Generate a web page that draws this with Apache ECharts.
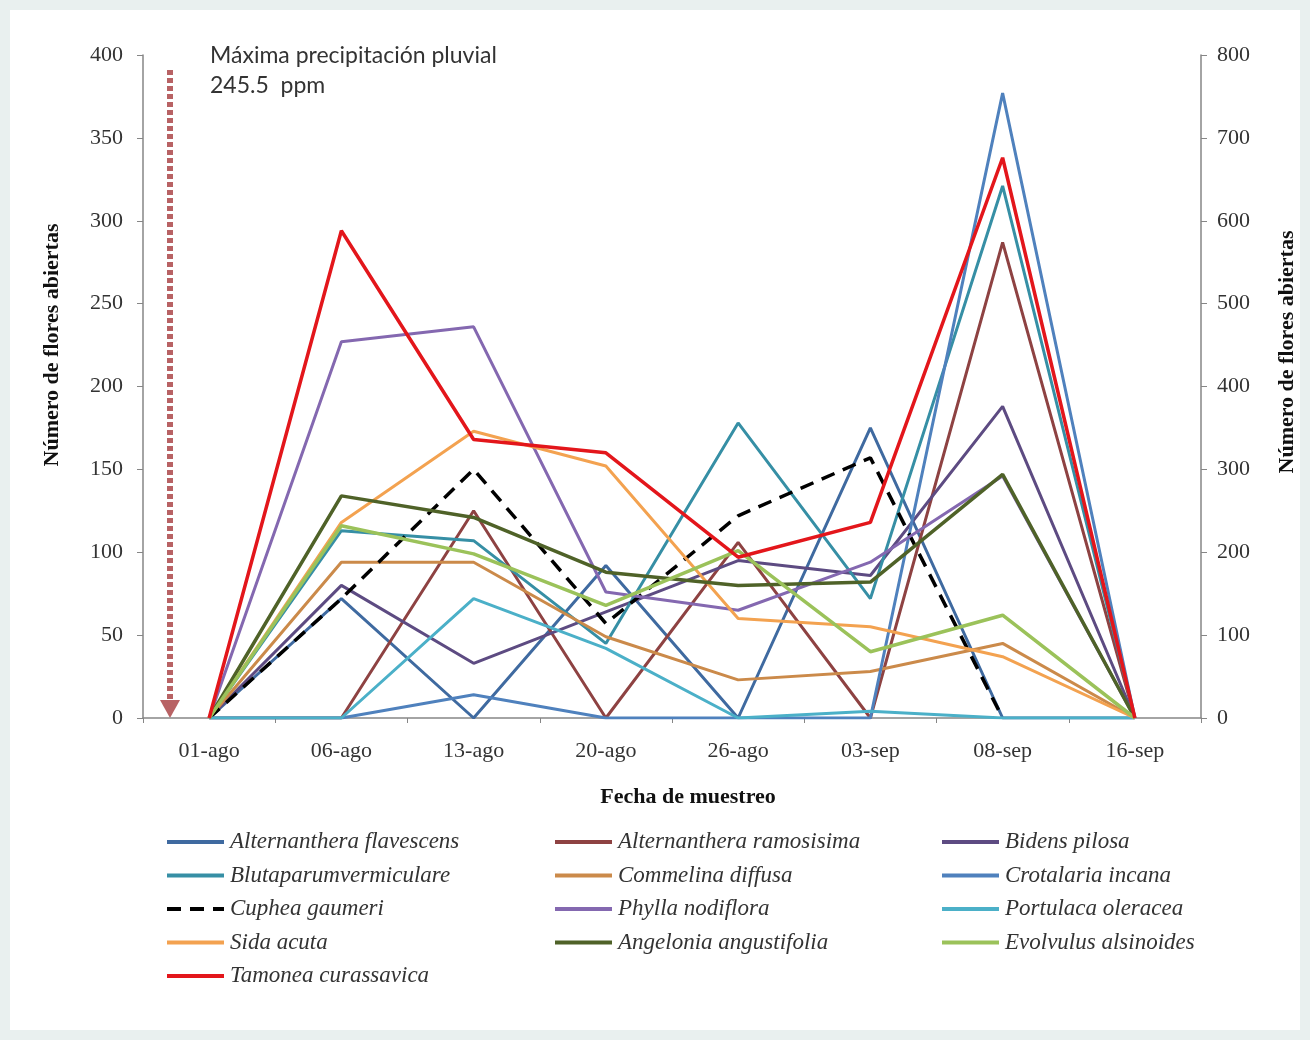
<!DOCTYPE html>
<html>
<head>
<meta charset="utf-8">
<title>Número de flores abiertas</title>
<script src="https://cdn.jsdelivr.net/npm/echarts@6/dist/echarts.min.js"></script>
<style>
  html, body { margin: 0; padding: 0; background: #e9f0ef; }
  #main { width: 1310px; height: 1040px; }
</style>
</head>
<body>
<div id="main"></div>
<script>
// fechas de muestreo
var fechas = ["01-ago", "06-ago", "13-ago", "20-ago", "26-ago", "03-sep", "08-sep", "16-sep"];

// número de flores abiertas por especie
var altFlavescens = [0, 72, 0, 92, 0, 175, 0, 0];
var altRamosisima = [0, 0, 125, 0, 106, 0, 287, 0];
var bidensPilosa = [0, 80, 33, 64, 95, 86, 188, 0];
var blutaparum = [0, 113, 107, 45, 178, 72, 321, 0];
var commelina = [0, 94, 94, 49, 23, 28, 45, 0];
var crotalaria = [0, 0, 14, 0, 0, 0, 377, 0];
var cuphea = [0, 72, 150, 57, 122, 157, 0, null];
var phylla = [0, 227, 236, 76, 65, 94, 146, 0];
var portulaca = [0, 0, 72, 42, 0, 4, 0, 0];
var sidaAcuta = [0, 118, 173, 152, 60, 55, 37, 0];
var angelonia = [0, 134, 121, 88, 80, 82, 147, 0];
var evolvulus = [0, 116, 99, 68, 101, 40, 62, 0];
var tamonea = [0, 294, 168, 160, 97, 118, 338, 0];

var leftTicks = [0, 400, 50];
var rightTicks = [0, 800, 100];

var serif = "'Liberation Serif', 'Times New Roman', serif";
var axisGray = "#868686";

var chart = echarts.init(document.getElementById("main"));

function linea(nombre, datos, color, ancho, tipo) {
  return {
    name: nombre,
    type: "line",
    symbol: "none",
    data: datos,
    lineStyle: { color: color, width: ancho, type: tipo || "solid" },
    itemStyle: { color: color },
    animation: false,
  };
}

function leyenda(left, nombres) {
  return {
    orient: "vertical",
    left: left,
    top: 830,
    padding: 0,
    itemWidth: 57,
    itemHeight: 14,
    itemGap: 9.5,
    // solo la línea, sin el círculo
    itemStyle: { color: "rgba(0,0,0,0)", borderColor: "rgba(0,0,0,0)", borderWidth: 0 },
    lineStyle: { width: 4 },
    textStyle: {
      fontFamily: serif,
      fontStyle: "italic",
      fontSize: 23,
      lineHeight: 24,
      color: "#333",
      padding: [0, 0, 0, 1],
    },
    data: nombres,
  };
}

var option = {
  backgroundColor: "#e9f0ef",
  animation: false,
  grid: {
    left: 143,
    right: 109,
    top: 55,
    bottom: 322,
  },
  legend: [
    leyenda(165, ["Alternanthera flavescens", "Blutaparumvermiculare", "Cuphea gaumeri", "Sida acuta", "Tamonea curassavica"]),
    leyenda(553, ["Alternanthera ramosisima", "Commelina diffusa", "Phylla nodiflora", "Angelonia angustifolia"]),
    leyenda(940, ["Bidens pilosa", "Crotalaria incana", "Portulaca oleracea", "Evolvulus alsinoides"]),
  ],
  xAxis: {
    type: "category",
    data: fechas,
    boundaryGap: true,
    axisLine: { show: true, lineStyle: { color: axisGray, width: 1.5 } },
    axisTick: { show: true, length: 5, lineStyle: { color: axisGray } },
    axisLabel: { margin: 22, fontFamily: serif, fontSize: 22, color: "#333" },
    splitLine: { show: false },
  },
  yAxis: [
    {
      type: "value",
      min: leftTicks[0],
      max: leftTicks[1],
      interval: leftTicks[2],
      position: "left",
      axisLine: { show: true, lineStyle: { color: axisGray, width: 1.5 } },
      axisTick: { show: true, length: 6, lineStyle: { color: axisGray } },
      axisLabel: { margin: 20, fontFamily: serif, fontSize: 22, color: "#333" },
      splitLine: { show: false },
    },
    {
      type: "value",
      min: rightTicks[0],
      max: rightTicks[1],
      interval: rightTicks[2],
      position: "right",
      axisLine: { show: true, lineStyle: { color: axisGray, width: 1.5 } },
      axisTick: { show: true, length: 6, lineStyle: { color: axisGray } },
      axisLabel: { margin: 16, fontFamily: serif, fontSize: 22, color: "#333" },
      splitLine: { show: false },
    },
  ],
  graphic: [
    // tarjeta blanca
    {
      type: "rect",
      z: -10,
      shape: { x: 10, y: 10, width: 1290, height: 1020 },
      style: { fill: "#ffffff" },
    },
    // flecha de precipitación
    {
      type: "line",
      shape: { x1: 170, y1: 70, x2: 170, y2: 700 },
      style: { stroke: "#b86264", lineWidth: 6, lineDash: [5, 3] },
    },
    {
      type: "polygon",
      shape: { points: [[160, 700], [180, 700], [170, 718]] },
      style: { fill: "#b86264" },
    },
    {
      type: "text",
      left: 210,
      top: 41,
      style: {
        text: "Máxima precipitación pluvial\n245.5  ppm",
        font: "23px Lato, 'Open Sans', sans-serif",
        lineHeight: 30,
        fill: "#333",
      },
    },
    {
      type: "text",
      x: 52,
      y: 345,
      rotation: Math.PI / 2,
      style: {
        text: "Número de flores abiertas",
        font: "bold 22px " + serif,
        textAlign: "center",
        textVerticalAlign: "middle",
        fill: "#111",
      },
    },
    {
      type: "text",
      x: 1287,
      y: 352,
      rotation: Math.PI / 2,
      style: {
        text: "Número de flores abiertas",
        font: "bold 22px " + serif,
        textAlign: "center",
        textVerticalAlign: "middle",
        fill: "#111",
      },
    },
    {
      type: "text",
      x: 688,
      y: 797,
      style: {
        text: "Fecha de muestreo",
        font: "bold 22px " + serif,
        textAlign: "center",
        textVerticalAlign: "middle",
        fill: "#111",
      },
    },
  ],
  series: [
    linea("Alternanthera flavescens", altFlavescens, "#3f6aa0", 3),
    linea("Alternanthera ramosisima", altRamosisima, "#8e4242", 3),
    linea("Bidens pilosa", bidensPilosa, "#5d4b82", 3),
    linea("Blutaparumvermiculare", blutaparum, "#368fa5", 3),
    linea("Commelina diffusa", commelina, "#cb8a4a", 3),
    linea("Crotalaria incana", crotalaria, "#4f81bd", 3),
    linea("Cuphea gaumeri", cuphea, "#000000", 3.5, [14, 9]),
    linea("Phylla nodiflora", phylla, "#8468b0", 3),
    linea("Portulaca oleracea", portulaca, "#4bb0c8", 3),
    linea("Sida acuta", sidaAcuta, "#f3a250", 3),
    linea("Angelonia angustifolia", angelonia, "#4f6228", 3.5),
    linea("Evolvulus alsinoides", evolvulus, "#9bc25a", 3.5),
    linea("Tamonea curassavica", tamonea, "#e3161b", 3.5),
  ],
};

chart.setOption(option);
</script>
</body>
</html>
